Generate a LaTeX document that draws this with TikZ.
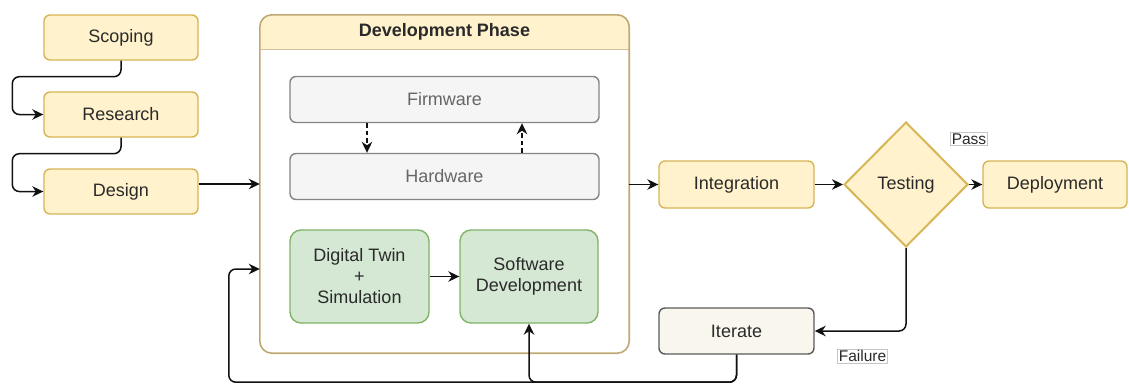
\documentclass[tikz,border=0pt]{standalone}
\usepackage{fontspec}
\setmainfont{Liberation Sans}
\usetikzlibrary{shapes.geometric,arrows.meta}

\definecolor{ylwfill}{HTML}{FFF2CC}
\definecolor{ylwline}{HTML}{D6B656}
\definecolor{cntline}{HTML}{BFA874}
\definecolor{grnfill}{HTML}{D5E8D4}
\definecolor{grnline}{HTML}{82B366}
\definecolor{gryfill}{HTML}{F5F5F5}
\definecolor{gryline}{HTML}{666666}
\definecolor{itfill}{HTML}{F9F7ED}
\definecolor{itline}{HTML}{5A5A5A}
\definecolor{txt}{HTML}{2A2A2A}
\definecolor{wire}{HTML}{111111}

\tikzset{
  base/.style={draw, line width=1.4pt, rounded corners=6pt, align=center,
    text=txt, font=\fontsize{18}{21}\selectfont, inner sep=0pt},
  phasebox/.style={base, fill=ylwfill, draw=ylwline},
  hwbox/.style={base, fill=gryfill, draw=gryline!80, text=gryline},
  simbox/.style={base, fill=grnfill, draw=grnline, rounded corners=11pt},
  iterbox/.style={base, fill=itfill, draw=itline},
  decision/.style={diamond, aspect=1, draw=ylwline, fill=ylwfill, line width=2pt,
    text=txt, font=\fontsize{18}{21}\selectfont, inner sep=0pt,
    minimum width=124pt, minimum height=125pt},
  flow/.style={draw=wire, line width=1.5pt, rounded corners=7pt,
    -{Stealth[length=11pt,width=10.5pt,inset=3.5pt]}},
  dashflow/.style={flow, dash pattern=on 4.5pt off 3pt},
  edgelabel/.style={draw=gray!45, fill=white, line width=0.6pt, inner sep=1.2pt,
    text=txt, font=\fontsize{15.5}{17}\selectfont},
}

\begin{document}
\begin{tikzpicture}[x=1pt, y=-1pt]
  \useasboundingbox (0,0) rectangle (1129,383);

  % preparation steps
  \node[phasebox, minimum width=154pt, minimum height=45pt] (scoping)  at (121,37.5)  {Scoping};
  \node[phasebox, minimum width=154pt, minimum height=45pt] (research) at (121,114.5) {Research};
  \node[phasebox, minimum width=154pt, minimum height=45pt] (design)   at (121,191.5) {Design};

  % development container with its header band
  \node[fill=white, minimum width=369pt, minimum height=338pt, inner sep=0pt,
        rounded corners=12pt] (dev) at (444.5,184) {};
  \begin{scope}
    \clip[rounded corners=12pt] (dev.north west) rectangle (dev.south east);
    \fill[ylwfill] (dev.north west) rectangle ([yshift=-35pt]dev.north east);
  \end{scope}
  \draw[cntline!70, line width=1pt] ([yshift=-35pt]dev.north west) -- ([yshift=-35pt]dev.north east);
  \draw[cntline, line width=1.6pt, rounded corners=12pt] (dev.north west) rectangle (dev.south east);
  \node[font=\bfseries\fontsize{18}{21}\selectfont, text=txt] (devtitle)
    at ([yshift=-17.5pt]dev.north) {Development Phase};

  % inner blocks
  \node[hwbox, minimum width=309pt, minimum height=46pt] (firmware) at (444.5,99.5)  {Firmware};
  \node[hwbox, minimum width=309pt, minimum height=46pt] (hardware) at (444.5,176.5) {Hardware};
  \node[simbox, minimum width=139pt, minimum height=93pt] (dtwin) at (359.5,276.5) {Digital Twin\\+\\Simulation};
  \node[simbox, minimum width=138pt, minimum height=93pt] (swdev) at (529,276.5) {Software\\Development};

  % later steps
  \node[phasebox, minimum width=155pt, minimum height=47pt] (integration) at (736.5,184.5) {Integration};
  \node[decision] (testing) at (906,184.5) {Testing};
  \node[phasebox, minimum width=144pt, minimum height=47pt] (deploy) at (1055,184.5) {Deployment};
  \node[iterbox, minimum width=155pt, minimum height=46pt] (iterate) at (736.5,331) {Iterate};

  % connectors
  \draw[flow] (scoping.south) -- ++(0,16) -| ([xshift=-31pt]research.west) -- (research.west);
  \draw[flow] (research.south) -- ++(0,16) -| ([xshift=-31pt]design.west) -- (design.west);
  \draw[flow, rounded corners=0pt] (design.east |- dev.west) -- (dev.west);
  \draw[dashflow] ([xshift=-77.5pt]firmware.south) -- ([xshift=-77.5pt]hardware.north);
  \draw[dashflow] ([xshift=77.5pt]hardware.north) -- ([xshift=77.5pt]firmware.south);
  \draw[flow] (dtwin.east) -- (swdev.west);
  \draw[flow] (dev.east |- integration.west) -- (integration.west);
  \draw[flow] (integration.east) -- (testing.west);
  \draw[flow] (testing.east) -- (deploy.west);
  \draw[flow] (testing.south) |- (iterate.east);
  \draw[flow] (iterate.south) -- ++(0,27.5) -| (swdev.south);
  \draw[flow] (iterate.south) -- ++(0,27.5) -| ([xshift=-31pt,yshift=-85pt]dev.west) -- ([yshift=-85pt]dev.west);

  % branch labels
  \node[edgelabel] (passlbl) at (969,139) {Pass};
  \node[edgelabel] (faillbl) at (862.5,356) {Failure};
\end{tikzpicture}
\end{document}
